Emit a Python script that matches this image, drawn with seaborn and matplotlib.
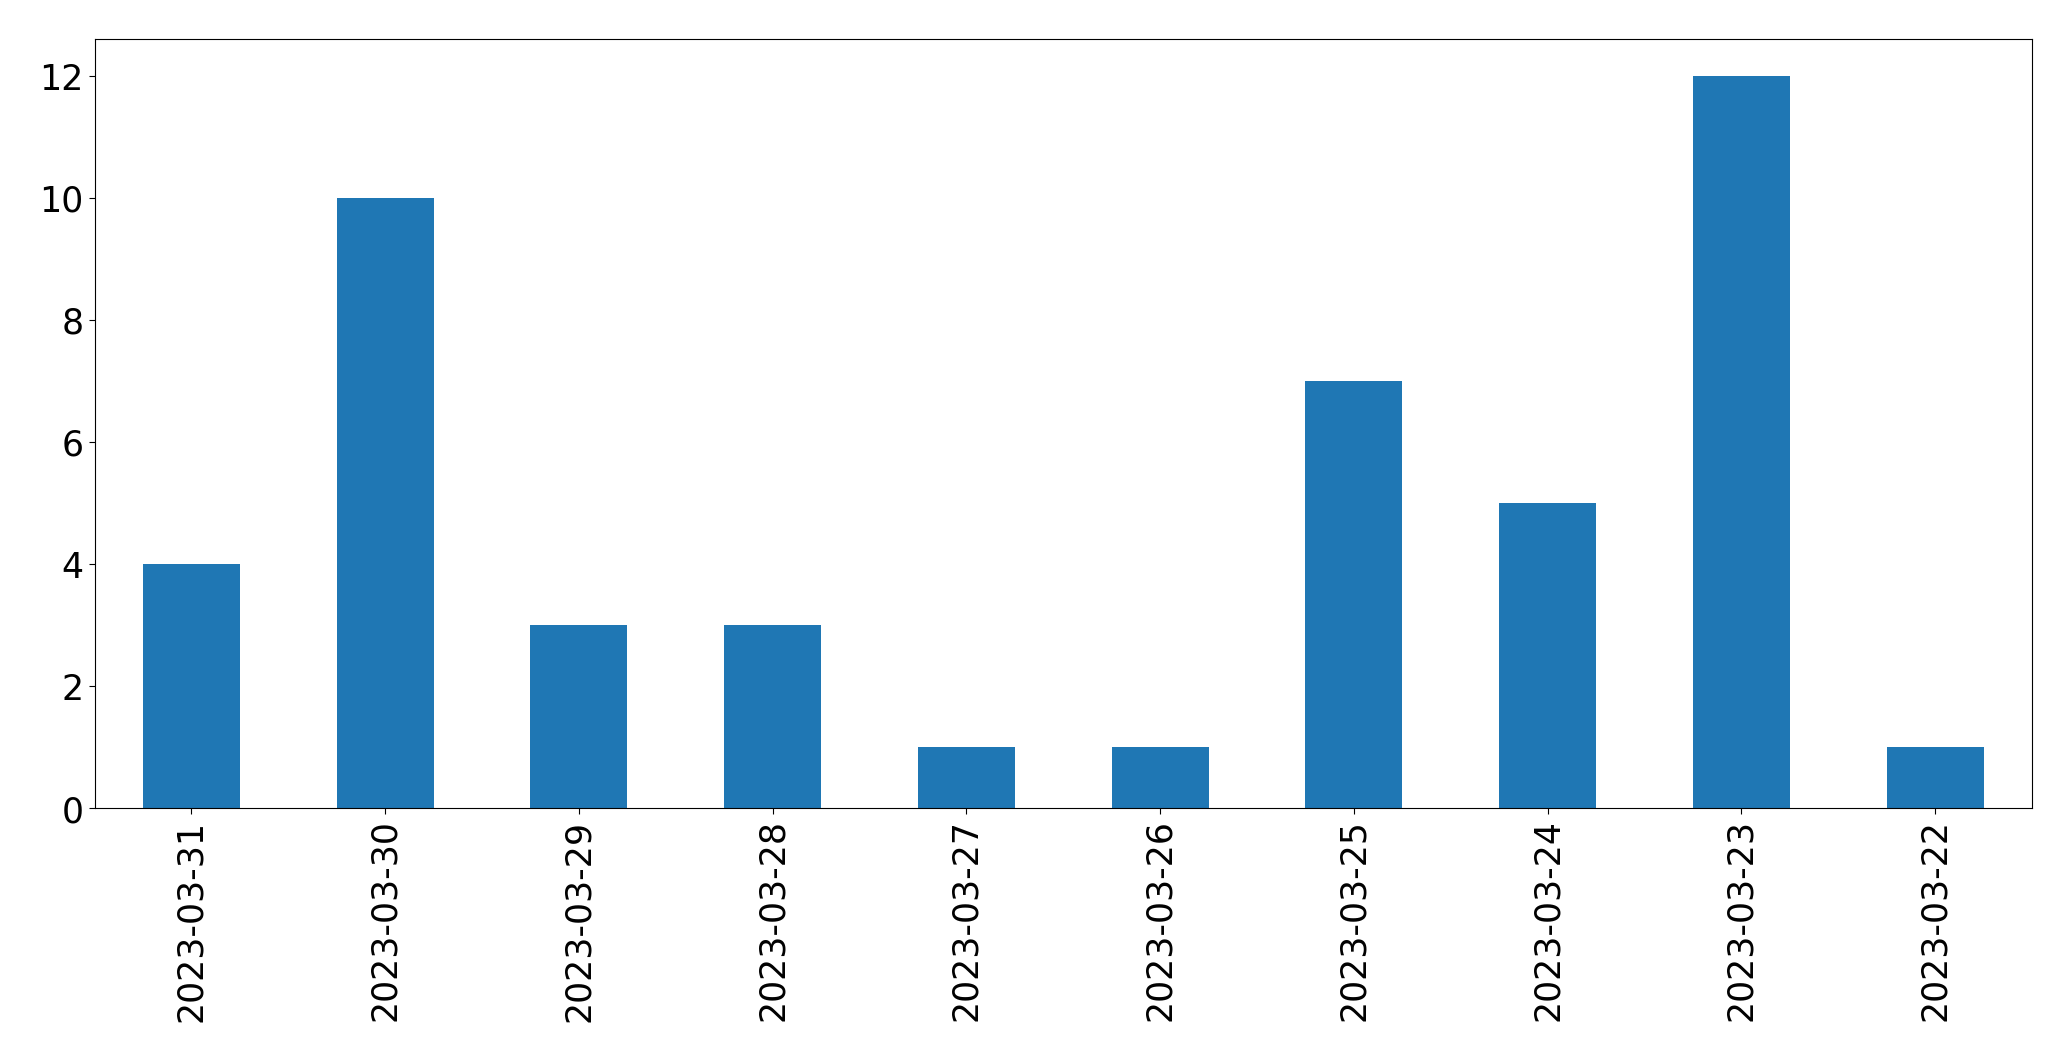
import matplotlib
matplotlib.use("Agg")
import matplotlib.pyplot as plt
import seaborn as sns

dates = ["2023-03-31", "2023-03-30", "2023-03-29", "2023-03-28", "2023-03-27",
         "2023-03-26", "2023-03-25", "2023-03-24", "2023-03-23", "2023-03-22"]
counts = [4, 10, 3, 3, 1, 1, 7, 5, 12, 1]

fig = plt.figure(figsize=(20.71, 10.605), dpi=100)
ax = fig.add_axes([94.5 / 2071, 1 - 809 / 1061, (2032 - 94.5) / 2071, (809 - 39.5) / 1061])

sns.barplot(x=dates, y=counts, color="#1f77b4", saturation=1, width=0.5, ax=ax)

ax.set_xlim(-0.5, len(dates) - 0.5)
ax.set_ylim(0, 12.6)
ax.set_yticks([0, 2, 4, 6, 8, 10, 12])
ax.tick_params(axis="both", labelsize=25, length=4.3, width=0.8)
ax.tick_params(axis="x", rotation=90)

fig.savefig("out.png", dpi=100)
